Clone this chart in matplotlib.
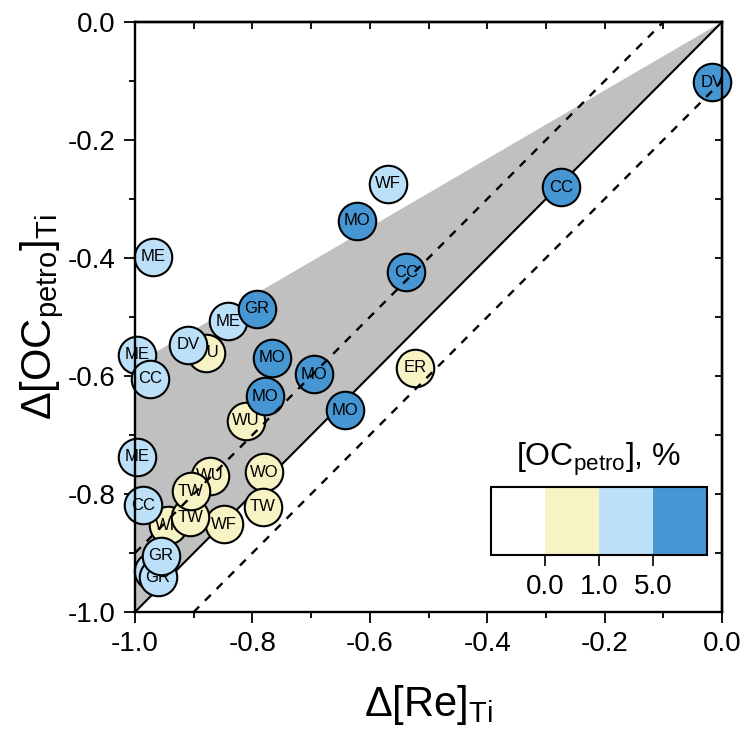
import numpy as np
import matplotlib
matplotlib.use("Agg")
from matplotlib import pyplot as plt
from matplotlib.colors import ListedColormap, BoundaryNorm
from matplotlib.colorbar import ColorbarBase

plt.rcParams['font.family'] = ['Liberation Sans', 'DejaVu Sans']
plt.rcParams['mathtext.fontset'] = 'custom'
plt.rcParams['mathtext.rm'] = 'Liberation Sans'
plt.rcParams['mathtext.it'] = 'Liberation Sans:italic'

# OC class: 0 -> 0-1 %, 1 -> 1-5 %, 2 -> >5 %   (drawn back to front)
sites = ['WF', 'WF', 'TW', 'WU', 'TW', '', 'GR', 'GR', 'ME', 'CC',
         'WO', 'TW', 'WU', 'MO', 'MO', 'MO', 'MO', 'ER', 'ME', 'CC',
         'WU', 'DV', 'ME', 'GR', 'ME', 'CC', 'MO', 'WF', 'CC', 'DV']
d_re = [-0.944, -0.848, -0.906, -0.872, -0.905, -0.970, -0.961, -0.956, -0.997, -0.986,
        -0.780, -0.782, -0.811, -0.767, -0.779, -0.695, -0.642, -0.523, -0.997, -0.974,
        -0.879, -0.910, -0.842, -0.792, -0.969, -0.538, -0.622, -0.569, -0.274, -0.017]
d_oc = [-0.853, -0.851, -0.839, -0.769, -0.795, -0.930, -0.941, -0.905, -0.737, -0.819,
        -0.763, -0.822, -0.676, -0.569, -0.634, -0.597, -0.658, -0.586, -0.564, -0.605,
        -0.561, -0.547, -0.507, -0.486, -0.398, -0.424, -0.337, -0.274, -0.280, -0.102]
oc_class = [0, 0, 0, 0, 0, 1, 1, 1, 1, 1,
            0, 0, 0, 2, 2, 2, 2, 0, 1, 1,
            0, 1, 1, 2, 1, 2, 2, 1, 2, 2]

upper_slope = 0.58
dash_offsets = [0.1, -0.1]
class_colors = ['#ffffff', '#f7f3c4', '#bbe0f8', '#4596d3']
class_ticks = ['0.0', '1.0', '5.0']


def fmt(v, pos=None):
    return '%.1f' % (0.0 if abs(v) < 1e-9 else v)


fig = plt.figure(figsize=(7.48, 7.32), dpi=100)
ax = fig.add_axes([135 / 748, 1 - 612 / 732, 587 / 748, 590 / 732])

# shaded wedge between 1:1 line and upper bound
xs = np.array([-1.0, 0.0, -1.0])
ax.fill(xs, [-1.0, 0.0, upper_slope * -1.0], color='#c0c0c0', lw=0, zorder=1)
ax.plot([-1, 0], [-1, 0], color='black', lw=1.5, zorder=2)
for off in dash_offsets:
    xx = np.array([-1.0, 0.0])
    ax.plot(xx, xx + off, color='black', lw=1.7, dashes=(3.5, 3.5), zorder=200)

for i, (lab, x, y, c) in enumerate(zip(sites, d_re, d_oc, oc_class)):
    ax.plot(x, y, 'o', ms=27, mfc=class_colors[c + 1], mec='black', mew=1.5,
            zorder=3 + 2 * i, clip_on=False)
    ax.text(x, y, lab, ha='center', va='center', fontsize=12, zorder=4 + 2 * i)

ax.set_xlim(-1, 0)
ax.set_ylim(-1, 0)
ax.set_xticks(np.arange(-1.0, 0.01, 0.2))
ax.set_yticks(np.arange(-1.0, 0.01, 0.2))
ax.set_xticks(np.arange(-0.9, 0.0, 0.2), minor=True)
ax.set_yticks(np.arange(-0.9, 0.0, 0.2), minor=True)
ax.xaxis.set_major_formatter(matplotlib.ticker.FuncFormatter(fmt))
ax.yaxis.set_major_formatter(matplotlib.ticker.FuncFormatter(fmt))
ax.tick_params(which='major', direction='out', length=8, width=1.3, labelsize=20, pad=6)
ax.tick_params(which='minor', direction='out', length=4, width=1.3)
for sp in ax.spines.values():
    sp.set_linewidth(1.7)
    sp.set_zorder(300)

ident = (lambda v: v, lambda v: v)
top = ax.secondary_xaxis('top', functions=ident)
right = ax.secondary_yaxis('right', functions=ident)
for sec in (top, right):
    sec.set_ticks(np.arange(-1.0, 0.01, 0.1))
    sec.tick_params(direction='in', length=5, width=1.3, labelsize=0,
                    labelbottom=False, labeltop=False, labelleft=False, labelright=False)
    for sp in sec.spines.values():
        sp.set_linewidth(1.7)

ax.set_xlabel('Δ[Re]$_{\\mathrm{Ti}}$', fontsize=30)
ax.set_ylabel('Δ[OC$_{\\mathrm{petro}}$]$_{\\mathrm{Ti}}$', fontsize=30)
ax.xaxis.set_label_coords(0.5, -0.12)
ax.yaxis.set_label_coords(-0.118, 0.5)

# legend colour bar
cax = fig.add_axes([491 / 748, 1 - 555 / 732, 216 / 748, 68 / 732])
cmap = ListedColormap(class_colors)
norm = BoundaryNorm(np.arange(len(class_colors) + 1), cmap.N)
cb = ColorbarBase(cax, cmap=cmap, norm=norm, orientation='horizontal')
cb.set_ticks(np.arange(1, len(class_colors)))
cb.set_ticklabels(class_ticks)
cb.outline.set_linewidth(1.5)
cax.tick_params(direction='out', length=8, width=1.2, labelsize=20, pad=6)
cax.minorticks_off()
fig.text((491 + 108) / 748, 1 - 466 / 732, '[OC$_{\\mathrm{petro}}$], %',
         ha='center', va='baseline', fontsize=23)

fig.savefig('out.png', dpi=100)
